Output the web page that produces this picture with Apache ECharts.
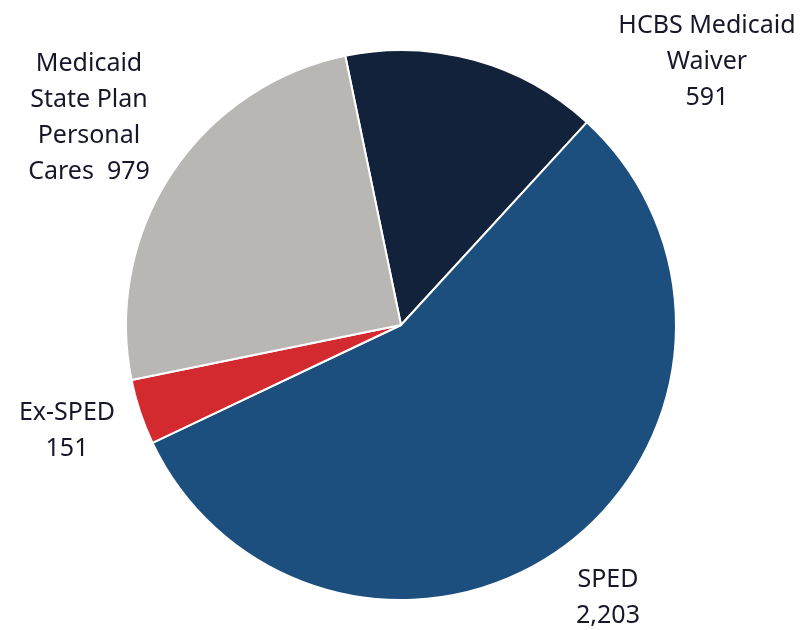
<!DOCTYPE html>
<html><head><meta charset="utf-8">
<script src="https://cdn.jsdelivr.net/npm/echarts@6/dist/echarts.min.js"></script>
<style>html,body{margin:0;padding:0;background:#fff}#c{width:810px;height:630px}</style>
</head><body><div id="c"></div>
<script>
const categories = ["HCBS Medicaid\nWaiver", "SPED", "Ex-SPED", "Medicaid\nState Plan\nPersonal\nCares"];
const values = [591, 2203, 151, 979];
const valueLabels = ["591", "2,203", "151", "979"];
const colors = ["#13223b", "#1d4f7e", "#d32a30", "#b9b7b4"];
const labelPos = [
  {x: 707, y: 62},
  {x: 608, y: 598},
  {x: 67, y: 431},
  {x: 89, y: 118}
];
const chart = echarts.init(document.getElementById('c'));
chart.setOption({
  animation: false,
  series: [{
    type: 'pie',
    center: [401, 325],
    radius: 275,
    startAngle: 101.7,
    clockwise: true,
    data: categories.map((n, i) => ({name: n, value: values[i], itemStyle: {color: colors[i]}})),
    itemStyle: {borderColor: '#fff', borderWidth: 2},
    label: {
      show: true,
      position: 'outside',
      fontFamily: 'Noto Sans',
      fontSize: 25,
      lineHeight: 36,
      color: '#17172a',
      align: 'center',
      overflow: 'none',
      formatter: p => {
        const i = p.dataIndex;
        if (i === 3) return p.name + '  ' + valueLabels[i];
        return p.name + '\n' + valueLabels[i];
      }
    },
    labelLine: {show: false},
    labelLayout: p => ({x: labelPos[p.dataIndex].x, y: labelPos[p.dataIndex].y, align: 'center', verticalAlign: 'middle', width: 300})
  }]
});
</script></body></html>
